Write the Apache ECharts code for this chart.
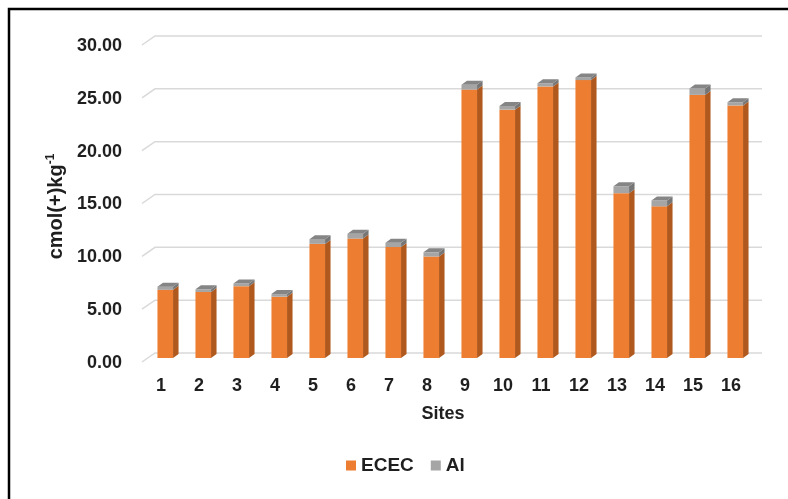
<!DOCTYPE html>
<html><head><meta charset="utf-8">
<script src="https://cdn.jsdelivr.net/npm/echarts@6/dist/echarts.min.js"></script>
<style>html,body{margin:0;padding:0;background:#fff;}#c{width:788px;height:499px;}</style>
</head><body><div id="c"></div>
<script>
var sites = ['1','2','3','4','5','6','7','8','9','10','11','12','13','14','15','16'];
var ecec = [6.45, 6.25, 6.8, 5.8, 10.8, 11.3, 10.5, 9.6, 25.4, 23.5, 25.7, 26.3, 15.6, 14.35, 24.9, 23.9];
var al = [0.3, 0.25, 0.25, 0.25, 0.45, 0.45, 0.4, 0.4, 0.45, 0.35, 0.3, 0.25, 0.65, 0.55, 0.6, 0.3];
var yTicks = [0, 5, 10, 15, 20, 25, 30];

var FONT = '"Liberation Sans", Arial, sans-serif';
var TXT = '#1f1f1f';
var FS = 18;

function prism(front, side, top, withTop) {
  return function (params, api) {
    var cat = api.value(0), lo = api.value(1), hi = api.value(2);
    var pLo = api.coord([cat, lo]);
    var pHi = api.coord([cat, hi]);
    var band = api.size([1, 0])[0];
    var w = band * 0.41;
    var d = 5.5, dy = 4;
    var x0 = pLo[0] - (w + d) / 2;
    var x1 = x0 + w;
    var yb = pLo[1], yt = pHi[1];
    var children = [
      { type: 'rect', shape: { x: x0, y: yt, width: w, height: yb - yt }, style: { fill: front } },
      { type: 'polygon', shape: { points: [[x1, yt], [x1 + d, yt - dy], [x1 + d, yb - dy], [x1, yb]] }, style: { fill: side } }
    ];
    if (withTop) {
      children.push({ type: 'polygon', shape: { points: [[x0, yt], [x0 + d, yt - dy], [x1 + d, yt - dy], [x1, yt]] }, style: { fill: top } });
    }
    return { type: 'group', children: children };
  };
}

// back-wall gridlines with the diagonal floor/side edge, drawn from the y scale
function wallLine(params, api) {
  var p = api.coord([0, api.value(1)]);
  var cs = params.coordSys;
  var y = p[1];
  return {
    type: 'polyline',
    shape: { points: [[cs.x - 7, y + 4], [cs.x + 6, y - 5], [cs.x + cs.width + 5, y - 5]] },
    style: { fill: 'none', stroke: '#d9d9d9', lineWidth: 1.5 }
  };
}

var ececData = ecec.map(function (v, i) { return [i, 0, v]; });
var alData = al.map(function (v, i) { return [i, ecec[i], ecec[i] + v]; });
var gridData = yTicks.map(function (v) { return [0, v]; });

var chart = echarts.init(document.getElementById('c'));
chart.setOption({
  animation: false,
  backgroundColor: '#fff',
  graphic: [{
    type: 'polyline', z: 100,
    shape: { points: [[9, 520], [9, 9], [820, 9]] },
    style: { fill: 'none', stroke: '#000', lineWidth: 2.5 }
  }],
  grid: { left: 149, right: 31, top: 41, bottom: 141 },
  legend: {
    bottom: 19, left: 341, itemWidth: 10, itemHeight: 10, itemGap: 17,
    textStyle: { fontFamily: FONT, fontWeight: 'bold', fontSize: 19, color: TXT },
    data: [
      { name: 'ECEC', icon: 'rect', itemStyle: { color: '#ED7D31' } },
      { name: 'Al', icon: 'rect', itemStyle: { color: '#A5A5A5' } }
    ]
  },
  xAxis: {
    type: 'category', data: sites, boundaryGap: true,
    name: 'Sites', nameLocation: 'middle', nameGap: 47,
    nameTextStyle: { fontFamily: FONT, fontWeight: 'bold', fontSize: FS, color: TXT, padding: [0, 20, 0, 0] },
    axisLine: { show: false },
    axisTick: { show: false },
    axisLabel: { fontFamily: FONT, fontWeight: 'bold', fontSize: FS, color: TXT, margin: 19, padding: [0, 14, 0, 0] }
  },
  yAxis: {
    type: 'value', min: yTicks[0], max: yTicks[yTicks.length - 1], interval: 5,
    name: 'cmol(+)kg{sup|-1}', nameLocation: 'middle', nameGap: 68, nameRotate: 90,
    nameTextStyle: {
      fontFamily: FONT, fontWeight: 'bold', fontSize: 20, color: TXT, padding: [0, 14, 0, 0],
      rich: { sup: { fontFamily: FONT, fontWeight: 'bold', fontSize: 12, color: TXT, verticalAlign: 'top', padding: [0, 0, 10, 0] } }
    },
    axisLine: { show: false }, axisTick: { show: false },
    axisLabel: { fontFamily: FONT, fontWeight: 'bold', fontSize: FS, color: TXT, margin: 27,
      verticalAlign: 'top', lineHeight: 10,
      formatter: function (v) { return v.toFixed(2); } },
    splitLine: { show: false }
  },
  series: [
    {
      name: 'wall', type: 'custom', renderItem: wallLine, silent: true,
      encode: { x: 0, y: 1 }, data: gridData, z: 1
    },
    {
      name: 'ECEC', type: 'custom', renderItem: prism('#ED7D31', '#B0591E', '#C96A27', false),
      encode: { x: 0, y: [1, 2] }, data: ececData, itemStyle: { color: '#ED7D31' }, z: 2
    },
    {
      name: 'Al', type: 'custom', renderItem: prism('#A5A5A5', '#767676', '#858585', true),
      encode: { x: 0, y: [1, 2] }, data: alData, itemStyle: { color: '#A5A5A5' }, z: 3
    }
  ]
});
</script></body></html>
